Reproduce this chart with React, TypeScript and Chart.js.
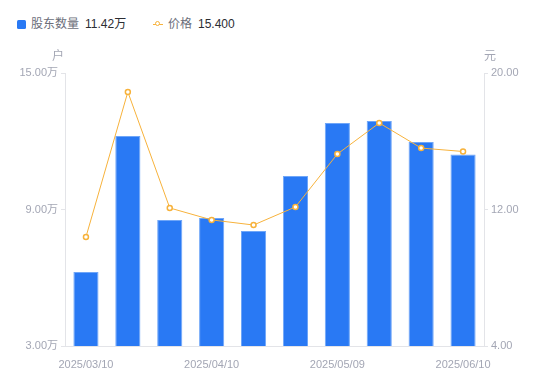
import React, { useEffect, useRef } from "react";
import { Chart, registerables } from "chart.js";

Chart.register(...registerables);

const categories = [
  "2025/03/10", "2025/03/20", "2025/03/31", "2025/04/10", "2025/04/18",
  "2025/04/30", "2025/05/09", "2025/05/20", "2025/05/30", "2025/06/10",
];
const holders = [6.25, 12.23, 8.54, 8.63, 8.05, 10.47, 12.8, 12.89, 11.97, 11.42];
const prices = [10.39, 18.89, 12.09, 11.39, 11.09, 12.15, 15.25, 17.07, 15.6, 15.4];
const leftTicks = [3, 9, 15];
const rightTicks = [4, 12, 20];

const FONT = '"Liberation Sans", "Noto Sans CJK SC", sans-serif';
const BLUE = "#2979F4";
const ORANGE = "#F7B23B";
const TICK_COLOR = "#A3A6B4";
const AXIS_COLOR = "#E3E4E8";

export default function App() {
  const ref = useRef<HTMLCanvasElement | null>(null);

  useEffect(() => {
    document.body.style.margin = "0";
    if (!ref.current) return;
    const titlePlugin = {
      id: "axisTitles",
      afterDraw(chart: any) {
        const ctx = chart.ctx;
        const y = chart.scales.y;
        const y1 = chart.scales.y1;
        ctx.save();
        ctx.font = `12px ${FONT}`;
        ctx.fillStyle = TICK_COLOR;
        ctx.textAlign = "center";
        ctx.textBaseline = "middle";
        ctx.fillText("户", y.right - 7, 57);
        ctx.fillText("元", y1.left + 6, 57);
        ctx.restore();
      },
    };
    const chart = new Chart(ref.current, {
      type: "bar",
      data: {
        labels: categories,
        datasets: [
          {
            type: "line",
            label: "价格",
            data: prices,
            yAxisID: "y1",
            borderColor: ORANGE,
            borderWidth: 1,
            pointRadius: 2.5,
            pointBorderWidth: 1.5,
            pointBackgroundColor: "#ffffff",
            pointBorderColor: ORANGE,
            tension: 0,
            order: 0,
          } as any,
          {
            type: "bar",
            label: "股东数量",
            data: holders,
            yAxisID: "y",
            backgroundColor: BLUE,
            borderColor: "#6FA6F8",
            borderWidth: { left: 1, right: 1, top: 1, bottom: 0 },
            categoryPercentage: 0.6,
            barPercentage: 1,
            order: 1,
          } as any,
        ],
      },
      plugins: [titlePlugin],
      options: {
        animation: false,
        responsive: false,
        maintainAspectRatio: false,
        layout: { padding: { top: 73, bottom: 0, left: 0, right: 0 } },
        plugins: {
          legend: { display: false },
          tooltip: { enabled: false },
        },
        scales: {
          x: {
            offset: true,
            grid: { display: false },
            border: { display: true, color: AXIS_COLOR },
            ticks: {
              autoSkip: false,
              maxRotation: 0,
              padding: 4,
              color: TICK_COLOR,
              font: { family: FONT, size: 11 },
              callback: (_v: any, i: number) => (i % 3 === 0 ? categories[i] : ""),
            },
            afterFit: (s: any) => { s.height = 35; },
          },
          y: {
            position: "left",
            min: 3,
            max: 15,
            afterBuildTicks: (s: any) => { s.ticks = leftTicks.map((v) => ({ value: v })); },
            grid: { display: true, drawOnChartArea: false, drawTicks: true, tickLength: 4, color: AXIS_COLOR },
            border: { display: true, color: AXIS_COLOR },
            ticks: {
              padding: 3,
              color: TICK_COLOR,
              font: { family: FONT, size: 11 },
              callback: (v: any) => `${Number(v).toFixed(2)}万`,
            },
            afterFit: (s: any) => { s.width = 65; },
          },
          y1: {
            position: "right",
            min: 4,
            max: 20,
            afterBuildTicks: (s: any) => { s.ticks = rightTicks.map((v) => ({ value: v })); },
            grid: { display: true, drawOnChartArea: false, drawTicks: true, tickLength: 4, color: AXIS_COLOR },
            border: { display: true, color: AXIS_COLOR },
            ticks: {
              padding: 3,
              color: TICK_COLOR,
              font: { family: FONT, size: 11 },
              callback: (v: any) => Number(v).toFixed(2),
            },
            afterFit: (s: any) => { s.width = 66; },
          },
        },
      },
    });
    return () => chart.destroy();
  }, []);

  const abs = (left: number, extra: any = {}) => ({ position: "absolute" as const, left, top: 16, lineHeight: "16px", fontSize: 12, whiteSpace: "nowrap" as const, ...extra });

  return (
    <div style={{ position: "relative", width: 550, height: 381, fontFamily: FONT }}>
      <span style={{ position: "absolute", left: 17, top: 19.5, width: 8.5, height: 9, borderRadius: 1.5, background: BLUE }} />
      <span style={abs(31, { color: "#6B6E7A" })}>股东数量</span>
      <span style={abs(85, { color: "#2B2D33" })}>11.42万</span>
      <span style={{ position: "absolute", left: 153, top: 23.5, width: 10, height: 1, background: ORANGE }} />
      <span style={{ position: "absolute", left: 155, top: 21, width: 3, height: 3, borderRadius: "50%", border: `1.5px solid ${ORANGE}`, background: "#fff" }} />
      <span style={abs(168, { color: "#6B6E7A" })}>价格</span>
      <span style={abs(198, { color: "#2B2D33" })}>15.400</span>
      <canvas ref={ref} width={550} height={381} style={{ position: "absolute", left: 0, top: 0 }} />
    </div>
  );
}
